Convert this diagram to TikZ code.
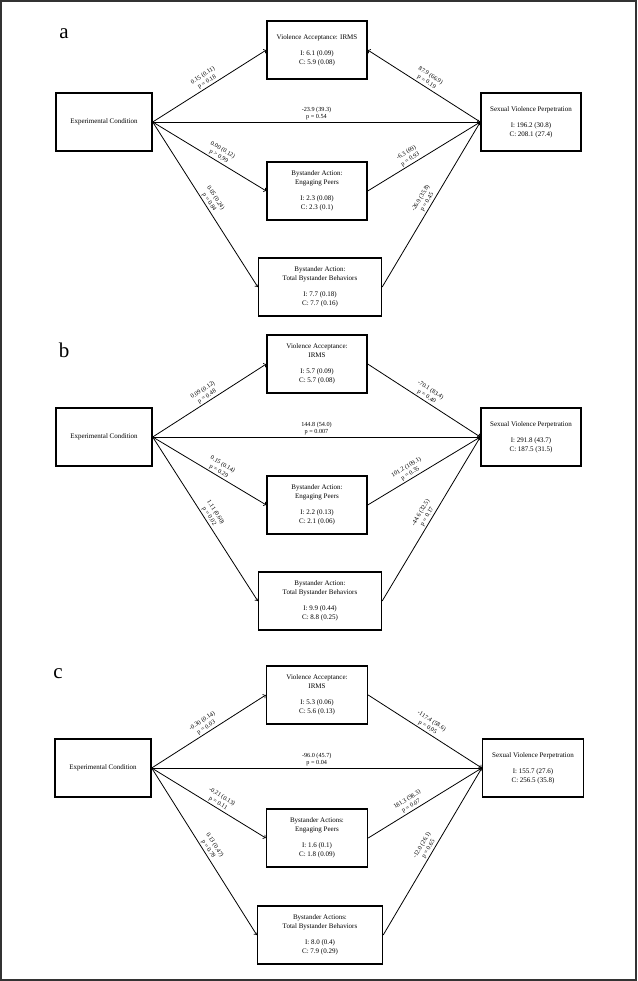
\documentclass[tikz,border=0pt]{standalone}
\usepackage{fontspec}
\setmainfont{Liberation Serif}
\usetikzlibrary{positioning}

\begin{document}
\begin{tikzpicture}[x=1pt, y=-1pt,
    box/.style = {draw, line width=1.4pt, align=center, inner sep=2pt,
      minimum height=58pt, font=\fontsize{7}{9}\selectfont},
    path/.style = {->, line width=0.8pt},
    lbl/.style = {font=\fontsize{6.2}{7.5}\selectfont, align=center, inner sep=1.5pt, sloped, above},
    tag/.style = {font=\fontsize{21}{24}\selectfont}]
  \useasboundingbox (0,0) rectangle (637,981);
  \draw[black!80, line width=1.5pt] (1,1) rectangle (636,980);

  % panel a
  \node[tag] (tag-a) at (64,34) {a};
  \node[box, minimum width=96pt] (cond-a) at (104,122) {Experimental Condition};
  \node[box, minimum width=100pt] (irms-a) at (317,50) {Violence Acceptance: IRMS\\[7pt]I: 6.1 (0.09)\\C: 5.9 (0.08)};
  \node[box, minimum width=100pt] (svp-a) at (531,122) {Sexual Violence Perpetration\\[7pt]I: 196.2 (30.8)\\C: 208.1 (27.4)};
  \node[box, minimum width=100pt] (peer-a) at (317,191) {Bystander Action:\\Engaging Peers\\[7pt]I: 2.3 (0.08)\\C: 2.3 (0.1)};
  \node[box, minimum width=123pt] (tot-a) at (320,287) {Bystander Action:\\Total Bystander Behaviors\\[7pt]I: 7.7 (0.18)\\C: 7.7 (0.16)};
  \draw[path] (cond-a.east) -- node[lbl] {0.15 (0.11)\\p = 0.18} (irms-a.west);
  \draw[path] (cond-a.east) -- node[lbl] {-23.9 (39.3)\\p = 0.54} (svp-a.west);
  \draw[path] (cond-a.east) -- node[lbl, pos=0.56] {0.00 (0.12)\\p > 0.99} (peer-a.west);
  \draw[path] (cond-a.east) -- node[lbl] {0.05 (0.24)\\p = 0.84} (tot-a.west);
  \draw[path] (svp-a.west) -- node[lbl] {87.9 (66.9)\\p = 0.19} (irms-a.east);
  \draw[path] (peer-a.east) -- node[lbl, pos=0.4] {-6.3 (69)\\p = 0.93} (svp-a.west);
  \draw[path] (tot-a.east) -- node[lbl] {-26.9 (35.8)\\p = 0.45} (svp-a.west);

  % panel b
  \begin{scope}[shift={(0,315)}]
  \node[tag] (tag-b) at (64,35) {b};
  \node[box, minimum width=96pt] (cond-b) at (104,122) {Experimental Condition};
  \node[box, minimum width=100pt] (irms-b) at (317,49) {Violence Acceptance:\\IRMS\\[7pt]I: 5.7 (0.09)\\C: 5.7 (0.08)};
  \node[box, minimum width=100pt] (svp-b) at (531,122) {Sexual Violence Perpetration\\[7pt]I: 291.8 (43.7)\\C: 187.5 (31.5)};
  \node[box, minimum width=100pt] (peer-b) at (317,190) {Bystander Action:\\Engaging Peers\\[7pt]I: 2.2 (0.13)\\C: 2.1 (0.06)};
  \node[box, minimum width=123pt] (tot-b) at (320,286) {Bystander Action:\\Total Bystander Behaviors\\[7pt]I: 9.9 (0.44)\\C: 8.8 (0.25)};
  \draw[path] (cond-b.east) -- node[lbl] {0.09 (0.12)\\p = 0.48} (irms-b.west);
  \draw[path] (cond-b.east) -- node[lbl] {144.8 (54.0)\\p = 0.007} (svp-b.west);
  \draw[path] (cond-b.east) -- node[lbl, pos=0.56] {0.15 (0.14)\\p = 0.29} (peer-b.west);
  \draw[path] (cond-b.east) -- node[lbl] {1.11 (0.60)\\p = 0.02} (tot-b.west);
  \draw[path] (irms-b.east) -- node[lbl] {-70.1 (83.4)\\p = 0.40} (svp-b.west);
  \draw[path] (peer-b.east) -- node[lbl, pos=0.4] {101.2 (109.1)\\p = 0.35} (svp-b.west);
  \draw[path] (tot-b.east) -- node[lbl] {-44.6 (32.5)\\p = 0.17} (svp-b.west);
  \end{scope}

  % panel c
  \begin{scope}[shift={(-1,646)}]
  \node[tag] (tag-c) at (59,28) {c};
  \node[box, minimum width=96pt] (cond-c) at (104,122) {Experimental Condition};
  \node[box, minimum width=101pt] (irms-c) at (318,49) {Violence Acceptance:\\IRMS\\[7pt]I: 5.3 (0.06)\\C: 5.6 (0.13)};
  \node[box, minimum width=101pt] (svp-c) at (534,122) {Sexual Violence Perpetration\\[7pt]I: 155.7 (27.6)\\C: 256.5 (35.8)};
  \node[box, minimum width=101pt] (peer-c) at (318,192) {Bystander Actions:\\Engaging Peers\\[7pt]I: 1.6 (0.1)\\C: 1.8 (0.09)};
  \node[box, minimum width=125pt] (tot-c) at (321,289) {Bystander Actions:\\Total Bystander Behaviors\\[7pt]I: 8.0 (0.4)\\C: 7.9 (0.29)};
  \draw[path] (cond-c.east) -- node[lbl] {-0.30 (0.14)\\p = 0.03} (irms-c.west);
  \draw[path] (cond-c.east) -- node[lbl] {-96.0 (45.7)\\p = 0.04} (svp-c.west);
  \draw[path] (cond-c.east) -- node[lbl, pos=0.56] {-0.21 (0.13)\\p = 0.11} (peer-c.west);
  \draw[path] (cond-c.east) -- node[lbl] {0.13 (0.47)\\p = 0.78} (tot-c.west);
  \draw[path] (irms-c.east) -- node[lbl] {-117.4 (58.6)\\p = 0.05} (svp-c.west);
  \draw[path] (peer-c.east) -- node[lbl, pos=0.4] {181.3 (98.3)\\p = 0.07} (svp-c.west);
  \draw[path] (tot-c.east) -- node[lbl] {-12.0 (26.1)\\p = 0.65} (svp-c.west);
  \end{scope}
\end{tikzpicture}
\end{document}
